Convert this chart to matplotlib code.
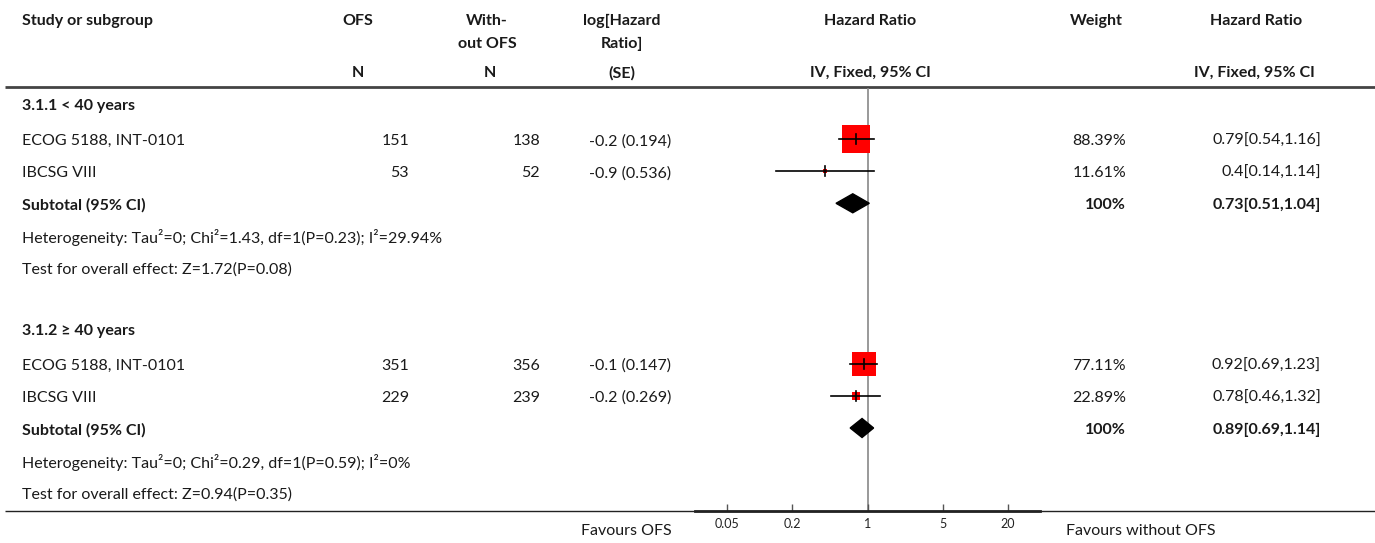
import matplotlib
matplotlib.use("Agg")
import matplotlib.pyplot as plt
from matplotlib.patches import Polygon

plt.rcParams['font.family'] = ['Lato', 'DejaVu Sans']

# ---- data ----
groups = ["3.1.1 < 40 years", "3.1.2 \u2265 40 years"]
studies = [["ECOG 5188, INT-0101", "IBCSG VIII"],
           ["ECOG 5188, INT-0101", "IBCSG VIII"]]
n_ofs = [[151, 53], [351, 229]]
n_without = [[138, 52], [356, 239]]
log_hr = [["-0.2 (0.194)", "-0.9 (0.536)"], ["-0.1 (0.147)", "-0.2 (0.269)"]]
hr = [[0.79, 0.4], [0.92, 0.78]]
hr_lo = [[0.54, 0.14], [0.69, 0.46]]
hr_hi = [[1.16, 1.14], [1.23, 1.32]]
weights = [[88.39, 11.61], [77.11, 22.89]]
sub_hr = [0.73, 0.89]
sub_lo = [0.51, 0.69]
sub_hi = [1.04, 1.14]
heterogeneity = ["Heterogeneity: Tau\u00b2=0; Chi\u00b2=1.43, df=1(P=0.23); I\u00b2=29.94%",
                 "Heterogeneity: Tau\u00b2=0; Chi\u00b2=0.29, df=1(P=0.59); I\u00b2=0%"]
overall = ["Test for overall effect: Z=1.72(P=0.08)",
           "Test for overall effect: Z=0.94(P=0.35)"]
xticks = [0.05, 0.2, 1, 5, 20]
xtick_labels = ["0.05", "0.2", "1", "5", "20"]

W, H = 1375, 543
fig = plt.figure(figsize=(W / 100, H / 100), dpi=100)
ax = fig.add_axes([0, 0, 1, 1])
ax.set_xlim(0, W)
ax.set_ylim(H, 0)
ax.axis("off")

x0, x1, ytop, ybot = 695, 1040, 88, 511
fax = fig.add_axes([x0 / W, (H - ybot) / H, (x1 - x0) / W, (ybot - ytop) / H])
fax.set_xscale("log")
fax.set_xlim(0.025, 40)
fax.set_ylim(ybot, ytop)
fax.patch.set_alpha(0)
for s in ["top", "left", "right"]:
    fax.spines[s].set_visible(False)
fax.spines["bottom"].set_linewidth(2)
fax.spines["bottom"].set_color("#222")
fax.set_yticks([])
fax.set_xticks(xticks)
fax.set_xticklabels(xtick_labels)
fax.minorticks_off()
fax.tick_params(axis="x", direction="in", length=5, width=1, color="#555",
                labelsize=9, labelcolor="#222", pad=5)
fax.axvline(1, color="#888", lw=1.2, zorder=1)

tc = "#1a1a1a"
fs = 11.5
dy = 2  # small text nudge

# header
hy1, hy2, hy3 = 21, 44, 73
ax.text(22, hy1, "Study or subgroup", fontsize=fs, weight="bold", color=tc, va="center")
ax.text(358, hy1, "OFS", fontsize=fs, weight="bold", color=tc, va="center", ha="center")
ax.text(487, hy1, "With-", fontsize=fs, weight="bold", color=tc, va="center", ha="center")
ax.text(487, hy2, "out OFS", fontsize=fs, weight="bold", color=tc, va="center", ha="center")
ax.text(622, hy1, "log[Hazard", fontsize=fs, weight="bold", color=tc, va="center", ha="center")
ax.text(622, hy2, "Ratio]", fontsize=fs, weight="bold", color=tc, va="center", ha="center")
ax.text(870, hy1, "Hazard Ratio", fontsize=fs, weight="bold", color=tc, va="center", ha="center")
ax.text(1096, hy1, "Weight", fontsize=fs, weight="bold", color=tc, va="center", ha="center")
ax.text(1256, hy1, "Hazard Ratio", fontsize=fs, weight="bold", color=tc, va="center", ha="center")
ax.text(358, hy3, "N", fontsize=fs, weight="bold", color=tc, va="center", ha="center")
ax.text(490, hy3, "N", fontsize=fs, weight="bold", color=tc, va="center", ha="center")
ax.text(622, hy3, "(SE)", fontsize=fs, weight="bold", color=tc, va="center", ha="center")
ax.text(870, hy3, "IV, Fixed, 95% CI", fontsize=fs, weight="bold", color=tc, va="center", ha="center")
ax.text(1254, hy3, "IV, Fixed, 95% CI", fontsize=fs, weight="bold", color=tc, va="center", ha="center")
ax.plot([5, W], [87, 87], color="#444", lw=2, solid_capstyle="butt")


def rowy(i):
    return 107 + 32.1 * i


row = 0
for g in range(len(groups)):
    y = rowy(row) - 3
    ax.text(22, y + dy, groups[g], fontsize=fs, weight="bold", color=tc, va="center")
    row += 1
    for k in range(len(studies[g])):
        y = rowy(row)
        ax.text(22, y + dy, studies[g][k], fontsize=fs, color=tc, va="center")
        ax.text(409, y + dy, str(n_ofs[g][k]), fontsize=fs, color=tc, va="center", ha="right")
        ax.text(540, y + dy, str(n_without[g][k]), fontsize=fs, color=tc, va="center", ha="right")
        ax.text(671, y + dy, log_hr[g][k], fontsize=fs, color=tc, va="center", ha="right")
        ax.text(1126, y + dy, "%.2f%%" % weights[g][k], fontsize=fs, color=tc, va="center", ha="right")
        ax.text(1321, y + dy, "%g[%g,%g]" % (hr[g][k], hr_lo[g][k], hr_hi[g][k]),
                fontsize=fs, color=tc, va="center", ha="right")
        side = 0.31 * weights[g][k] * 0.72
        fax.scatter([hr[g][k]], [y], marker="s", s=side ** 2, color="#ff0000",
                    linewidths=0, zorder=3)
        fax.plot([hr_lo[g][k], hr_hi[g][k]], [y, y], color="black", lw=1.2, zorder=4)
        fax.plot([hr[g][k], hr[g][k]], [y - 5, y + 5], color="black", lw=1.2, zorder=4)
        row += 1
    y = rowy(row)
    ax.text(22, y + dy, "Subtotal (95% CI)", fontsize=fs, weight="bold", color=tc, va="center")
    ax.text(1126, y + dy, "100%", fontsize=fs, weight="bold", color=tc, va="center", ha="right")
    ax.text(1321, y + dy, "%g[%g,%g]" % (sub_hr[g], sub_lo[g], sub_hi[g]),
            fontsize=fs, weight="bold", color=tc, va="center", ha="right")
    fax.add_patch(Polygon([(sub_lo[g], y), (sub_hr[g], y - 9.5), (sub_hi[g], y),
                           (sub_hr[g], y + 9.5)], closed=True, color="black", zorder=3))
    row += 1
    ax.text(22, rowy(row) + dy, heterogeneity[g], fontsize=fs, color=tc, va="center")
    row += 1
    ax.text(22, rowy(row) + dy, overall[g], fontsize=fs, color=tc, va="center")
    row += 2

ax.plot([5, W], [511, 511], color="#222", lw=1, solid_capstyle="butt")
ax.text(672, 529 + dy, "Favours OFS", fontsize=fs, color=tc, va="center", ha="right")
ax.text(1066, 529 + dy, "Favours without OFS", fontsize=fs, color=tc, va="center", ha="left")

fig.savefig("out.png", dpi=100)
